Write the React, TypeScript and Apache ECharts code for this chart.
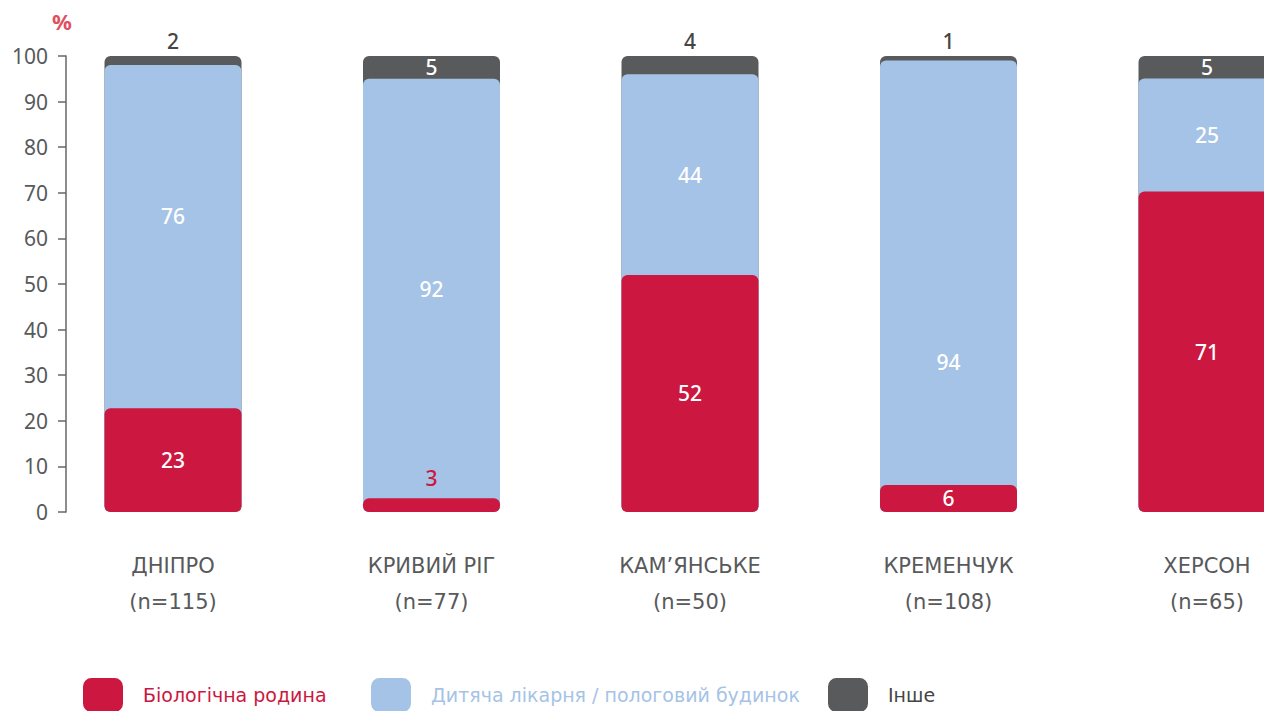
import React, { useEffect, useRef } from "react";
import * as echarts from "echarts";

const categories = ["ДНІПРО", "КРИВИЙ РІГ", "КАМ’ЯНСЬКЕ", "КРЕМЕНЧУК", "ХЕРСОН"];
const sampleSizes = [115, 77, 50, 108, 65];
const biological = [23, 3, 52, 6, 71];
const hospital = [76, 92, 44, 94, 25];
const other = [2, 5, 4, 1, 5];
const seriesNames = ["Біологічна родина", "Дитяча лікарня / пологовий будинок", "Інше"];

const RED = "#cc1740";
const BLUE = "#a5c3e6";
const GRAY = "#595a5c";
const TEXT = "#58595b";
const FONT = "'Noto Sans', sans-serif";
const WIDE_FONT = "'DejaVu Sans', sans-serif";
// manual label nudges (px) for the hospital segment labels, as in the original
const hospitalLabelNudge = [-21, 0, 0, 89, 0];

export default function App() {
  const ref = useRef<HTMLDivElement>(null);
  useEffect(() => {
    if (!ref.current) return;
    const chart = echarts.init(ref.current, undefined, { renderer: "svg" });
    const totals = categories.map((_, i) => biological[i] + hospital[i] + other[i]);
    const redTop = categories.map((_, i) => (biological[i] / totals[i]) * 100);
    const blueTop = categories.map((_, i) => ((biological[i] + hospital[i]) / totals[i]) * 100);

    const labelFont = { fontSize: 21, fontFamily: FONT, fontWeight: 500 };

    const grayData = categories.map((_, i) => {
      const mid = (blueTop[i] + 100) / 2;
      const pct = ((100 - mid) / 100) * 100;
      return {
        value: 100,
        label:
          other[i] < 5
            ? { position: "top", distance: 5, color: "#454545" }
            : { position: ["50%", pct + "%"], align: "center", verticalAlign: "middle", color: "#fff" },
      };
    });
    const blueData = categories.map((_, i) => {
      const mid = (redTop[i] + blueTop[i]) / 2;
      const pct = ((blueTop[i] - mid) / blueTop[i]) * 100;
      return {
        value: blueTop[i],
        label: {
          position: ["50%", pct + "%"],
          align: "center",
          verticalAlign: "middle",
          color: "#fff",
          offset: [0, hospitalLabelNudge[i]],
        },
      };
    });
    const redData = categories.map((_, i) => ({
      value: redTop[i],
      label:
        biological[i] < 5
          ? { position: "top", distance: 10, color: RED }
          : { position: "inside", color: "#fff" },
    }));

    const common = {
      type: "bar",
      barWidth: 137,
      barGap: "-100%",
      clip: false,
    };

    chart.setOption({
      animation: false,
      grid: { left: 173, top: 56, right: 57, height: 456 },
      xAxis: {
        type: "category",
        data: categories,
        boundaryGap: false,
        axisLine: { show: false },
        axisTick: { show: false },
        axisLabel: {
          formatter: (v: string, i: number) => v + "\n(n=" + sampleSizes[i] + ")",
          fontSize: 21,
          lineHeight: 36,
          color: TEXT,
          fontFamily: WIDE_FONT,
          margin: 36,
        },
      },
      yAxis: {
        type: "value",
        min: 0,
        max: 100,
        interval: 10,
        offset: 107,
        name: "%",
        nameLocation: "end",
        nameGap: 24,
        nameTextStyle: { color: "#e0505e", fontSize: 22, fontFamily: FONT, fontWeight: "bold", padding: [0, 8, 0, 0] },
        axisLine: { show: true, lineStyle: { color: "#666", width: 1.5 } },
        axisTick: { show: true, length: 8, lineStyle: { color: "#666", width: 1.5 } },
        splitLine: { show: false },
        axisLabel: { fontSize: 21, color: TEXT, fontFamily: FONT, margin: 18 },
      },
      legend: [0, 1, 2].map((k) => ({
        data: [seriesNames[k]],
        left: [83, 371, 828][k],
        top: 678,
        padding: 0,
        itemWidth: 40,
        itemHeight: 34,
        icon: "roundRect",
        selectedMode: false,
        textStyle: {
          color: [RED, BLUE, "#454545"][k],
          fontSize: 19,
          fontFamily: WIDE_FONT,
          padding: [0, 0, 0, 15],
        },
      })),
      series: [
        {
          ...common,
          name: seriesNames[2],
          data: grayData,
          itemStyle: { borderRadius: 6, color: GRAY },
          label: { show: true, ...labelFont, formatter: (p: any) => String(other[p.dataIndex]) },
        },
        {
          ...common,
          name: seriesNames[1],
          data: blueData,
          itemStyle: { borderRadius: 6, color: BLUE },
          label: { show: true, ...labelFont, formatter: (p: any) => String(hospital[p.dataIndex]) },
        },
        {
          ...common,
          name: seriesNames[0],
          data: redData,
          itemStyle: { borderRadius: 6, color: RED },
          label: { show: true, ...labelFont, formatter: (p: any) => String(biological[p.dataIndex]) },
        },
      ],
    });
    return () => chart.dispose();
  }, []);
  return (
    <div
      ref={ref}
      style={{ position: "absolute", left: 0, top: 0, width: 1264, height: 711 }}
    />
  );
}
